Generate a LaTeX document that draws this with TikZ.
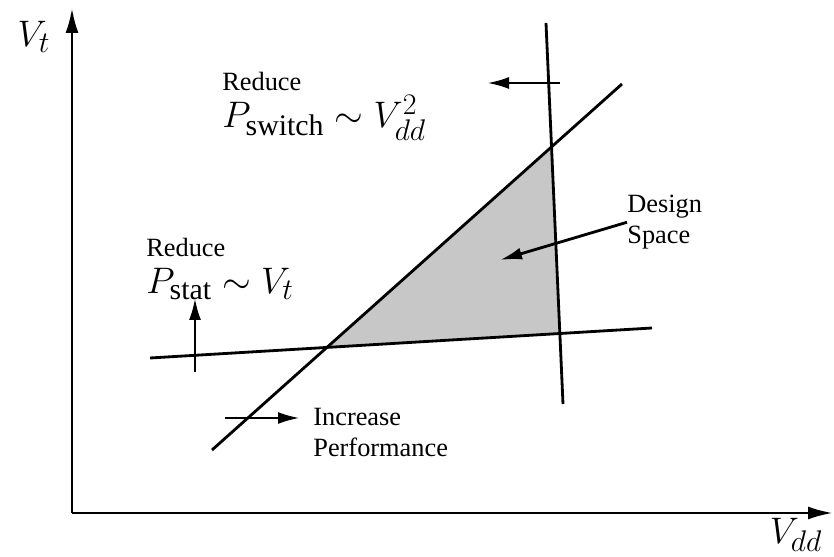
\RequirePackage{fix-cm}
\documentclass[tikz,border=0pt]{standalone}
\usepackage{amsmath}
\usepackage{fontspec}
\setmainfont{Liberation Serif}
\DeclareMathSizes{15}{21}{17}{13}
\usetikzlibrary{arrows.meta,intersections}
\tikzset{
  ax/.style  ={line width=1.6pt, -{Latex[length=5mm,width=2.6mm]}},
  ln/.style  ={line width=1.6pt},
  arr/.style ={line width=1.6pt, -{Latex[length=4.4mm,width=2.4mm]}},
  lbl/.style ={inner sep=0pt, align=left, font=\fontsize{15}{17.5}\selectfont},
  mth/.style ={lbl, font=\fontsize{15}{21}\selectfont},
}
\begin{document}
\begin{tikzpicture}
  \useasboundingbox (0,0) rectangle (16.68,11.14);
  % axes
  \coordinate (o) at (1.44,0.88);
  \coordinate (ytip) at (1.44,10.98);
  \coordinate (xtip) at (16.66,0.88);
  \draw[ax] (o) -- (ytip);
  \draw[ax] (o) -- (xtip);
  \node[lbl] (vt) at (0.68,10.4) {$V_t$};
  \node[lbl] (vdd) at (15.92,0.44) {$V_{dd}$};

  % the three bounding lines
  \coordinate (d1) at (4.24,2.14);   \coordinate (d2) at (12.44,9.46);
  \coordinate (h1) at (3.0,3.98);    \coordinate (h2) at (13.04,4.58);
  \coordinate (s1) at (10.92,10.68); \coordinate (s2) at (11.26,3.06);
  \path[name path=diag] (d1) -- (d2);
  \path[name path=horz] (h1) -- (h2);
  \path[name path=vert] (s1) -- (s2);
  \path[name intersections={of=diag and horz, by=c1}];
  \path[name intersections={of=diag and vert, by=c2}];
  \path[name intersections={of=horz and vert, by=c3}];
  \fill[black!22] (c1) -- (c2) -- (c3) -- cycle;
  \draw[ln] (d1) -- (d2);
  \draw[ln] (h1) -- (h2);
  \draw[ln] (s1) -- (s2);

  % labels and arrows
  \node[mth, anchor=north west] (sw) at (4.44,9.70)
       {Reduce\\$P_{\text{switch}} \sim V_{dd}^2$};
  \coordinate (swa) at (11.2,9.48);
  \coordinate (swb) at (9.74,9.48);
  \draw[arr] (swa) -- (swb);

  \node[mth, anchor=north west] (st) at (2.92,6.38)
       {Reduce\\$P_{\text{stat}} \sim V_t$};
  \coordinate (sta) at (3.9,3.7);
  \coordinate (stb) at (3.9,5.18);
  \draw[arr] (sta) -- (stb);

  \node[lbl, anchor=north west] (pf) at (6.26,2.98) {Increase\\Performance};
  \coordinate (pfa) at (4.5,2.78);
  \coordinate (pfb) at (6.0,2.78);
  \draw[arr] (pfa) -- (pfb);

  \node[lbl, anchor=north west] (ds) at (12.54,7.24) {Design\\Space};
  \coordinate (dsb) at (10.0,5.94);
  \draw[arr] (ds.west) -- (dsb);
\end{tikzpicture}
\end{document}
